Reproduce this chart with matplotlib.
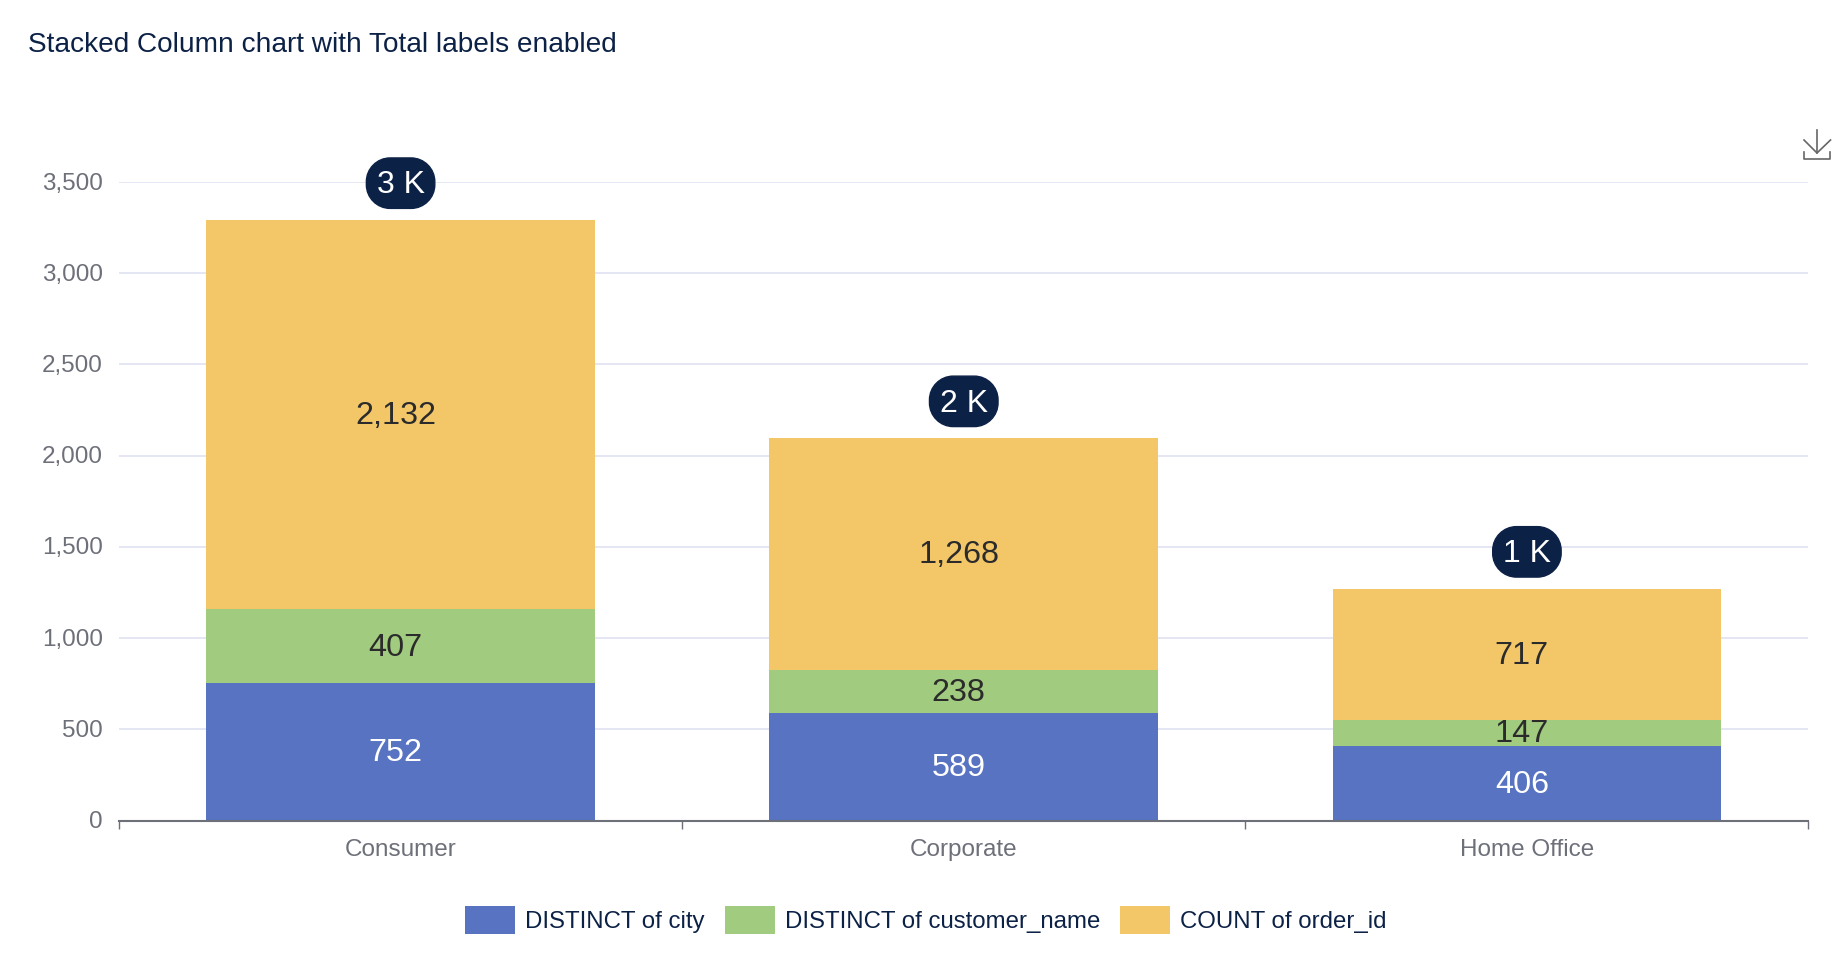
import matplotlib
matplotlib.use('Agg')
import numpy as np
import matplotlib.pyplot as plt
from matplotlib.lines import Line2D
from matplotlib.path import Path
from matplotlib.transforms import ScaledTranslation

W, H = 1849, 961

segments = ['Consumer', 'Corporate', 'Home Office']
series_names = ['DISTINCT of city', 'DISTINCT of customer_name', 'COUNT of order_id']
city = [752, 589, 406]
customer = [407, 238, 147]
orders = [2132, 1268, 717]
total_labels = ['3 K', '2 K', '1 K']
y_ticks = [0, 500, 1000, 1500, 2000, 2500, 3000, 3500]

colors = ['#5773C1', '#A1CB7F', '#F3C768']
label_colors = ['white', '#2B2B2B', '#2B2B2B']
navy = '#0C2146'
grey = '#6E7079'

plt.rcParams['font.family'] = ['Liberation Sans', 'DejaVu Sans']


def pill_box(x0, y0, width, height, mutation_size):
    # rounded box with true circular corners, moved up so the glyphs end up in its middle
    pad = 0.32 * mutation_size
    x0, x1 = x0 - pad, x0 + width + pad
    y0, y1 = y0 - pad + 0.07 * mutation_size, y0 + height + pad + 0.07 * mutation_size
    r = 0.47 * (y1 - y0)
    k = 0.45 * r
    verts = [(x0 + r, y0), (x1 - r, y0),
             (x1 - k, y0), (x1, y0 + k), (x1, y0 + r),
             (x1, y1 - r),
             (x1, y1 - k), (x1 - k, y1), (x1 - r, y1),
             (x0 + r, y1),
             (x0 + k, y1), (x0, y1 - k), (x0, y1 - r),
             (x0, y0 + r),
             (x0, y0 + k), (x0 + k, y0), (x0 + r, y0),
             (x0 + r, y0)]
    L, C = Path.LINETO, Path.CURVE4
    codes = [Path.MOVETO, L, C, C, C, L, C, C, C, L, C, C, C, L, C, C, C, Path.CLOSEPOLY]
    return Path(verts, codes)


fig = plt.figure(figsize=(W / 100, H / 100), dpi=100)
ax = fig.add_axes([119 / W, 1 - 820.5 / H, (1808.5 - 119) / W, (820.5 - 182) / H])

x = np.arange(len(segments))
bottom = np.zeros(len(segments))
for vals, name, col, lcol in zip([city, customer, orders], series_names, colors, label_colors):
    bars = ax.bar(x, vals, width=0.69, bottom=bottom, color=col, label=name, zorder=2)
    for xi, b, v in zip(x, bottom, vals):
        # the value labels sit a little left of the bar centre
        ax.annotate(f'{v:,}', xy=(xi, b + v / 2), xytext=(-3.6, -1), textcoords='offset points',
                    ha='center', va='center', fontsize=23.3, color=lcol, zorder=4)
    bottom += np.array(vals)

# total pills
for xi, total, lab in zip(x, bottom, total_labels):
    ax.annotate(lab, xy=(xi, total), xytext=(0, 25), textcoords='offset points',
                ha='center', va='center', fontsize=23, color='white', zorder=5,
                annotation_clip=False,
                bbox=dict(boxstyle=pill_box, fc=navy, ec=navy))

ax.set_xlim(-0.5, 2.5)
ax.set_ylim(0, 3500)
ax.set_yticks(y_ticks)
ax.set_yticklabels([f'{t:,}' for t in y_ticks])
ax.set_xticks(x)
ax.set_xticklabels(segments)
ax.set_xticks([-0.5, 0.5, 1.5, 2.5], minor=True)

ax.grid(axis='y', color='#E4E7F3', lw=1.4, zorder=0)
ax.set_axisbelow(True)
for s in ['top', 'right', 'left']:
    ax.spines[s].set_visible(False)
ax.spines['bottom'].set_color(grey)
ax.spines['bottom'].set_linewidth(1.5)
ax.spines['bottom'].set_zorder(6)

ax.tick_params(axis='y', length=0, pad=11.5, labelsize=17.5, labelcolor=grey)
ax.tick_params(axis='x', which='major', length=0, pad=13.5, labelsize=17.5, labelcolor=grey)
ax.tick_params(axis='x', which='minor', length=5.8, width=1, color=grey)

# y labels sit slightly above their grid lines
nudge = ScaledTranslation(0, 0.7 / 72, fig.dpi_scale_trans)
for lab in ax.get_yticklabels():
    lab.set_transform(lab.get_transform() + nudge)

fig.text(28 / W, 1 - 44.5 / H, 'Stacked Column chart with Total labels enabled',
         fontsize=20.2, color=navy, ha='left', va='center')

fs = 17.3
fpx = fs * 100 / 72
leg = fig.legend(loc='center', bbox_to_anchor=(926 / W, 1 - 920 / H), ncol=3, frameon=False,
                 fontsize=fs, labelcolor=navy, handlelength=50 / fpx,
                 handleheight=(28 / fpx - 0.245) / 0.65,
                 handletextpad=10 / fpx, columnspacing=20 / fpx, borderpad=0, borderaxespad=0)


def px_line(xs, ys, lw=1.2):
    fig.add_artist(Line2D([a / W for a in xs], [1 - b / H for b in ys], color='#666666', lw=lw))


# download icon
px_line([1817, 1817], [130, 153])
px_line([1804, 1817, 1830.5], [140, 153, 140])
px_line([1804, 1804, 1830.5, 1830.5], [152, 159, 159, 152])

fig.savefig('out.png', dpi=100)
